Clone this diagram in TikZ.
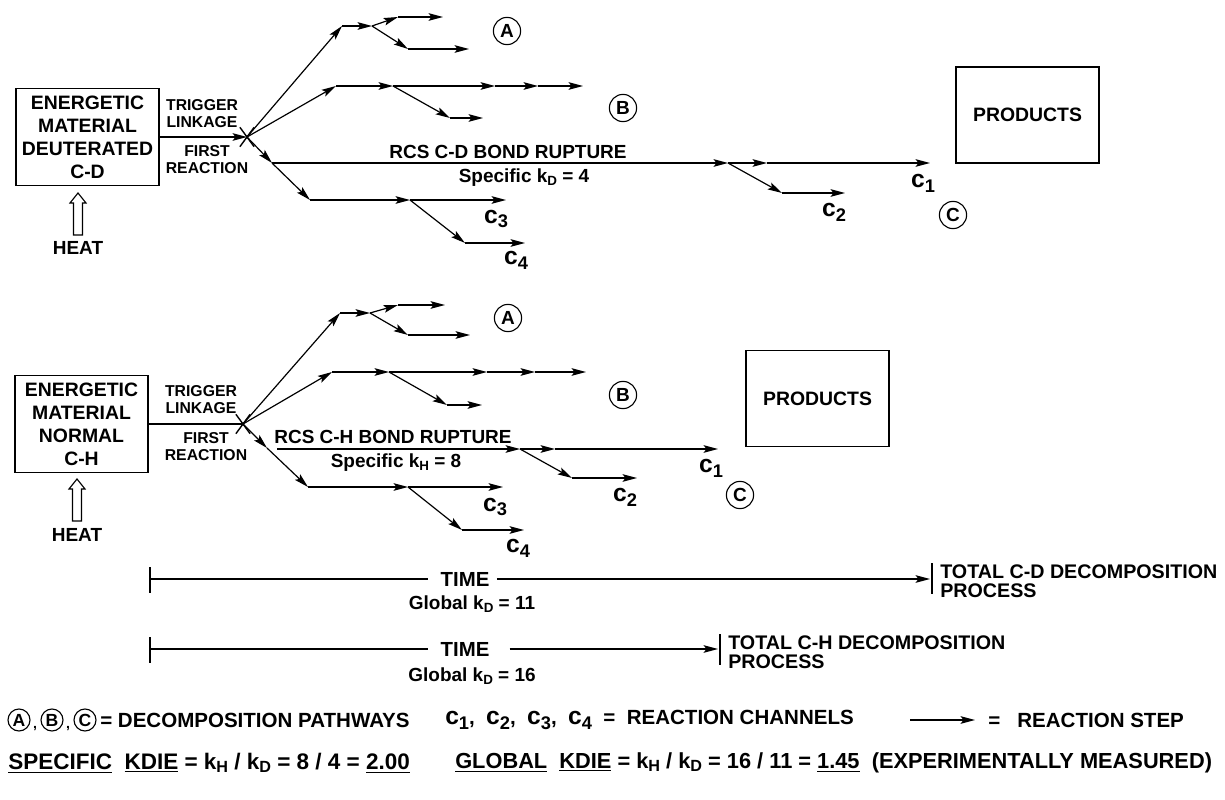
\documentclass[tikz,border=0pt]{standalone}
\usepackage{fontspec}
\setmainfont{Liberation Sans}
\usepackage{tikz}
\usetikzlibrary{arrows.meta, shapes.misc}
\newcommand{\fsz}[1]{\fontsize{#1}{#1}\selectfont}
\newcommand{\chan}[1]{{\fsz{17.5}c}\raisebox{-3.5pt}{\fsz{13}#1}}
\newcommand{\ksub}[2][9.5]{k\raisebox{-2pt}{\fsz{#1}#2}}

\begin{document}
\begin{tikzpicture}[x=0.025cm, y=-0.025cm,
    lbl/.style={font=\fsz{13.5}\bfseries, inner sep=0pt, align=center},
    trglbl/.style={font=\fontsize{11.2}{12}\selectfont\bfseries, inner sep=0pt, align=center},
    matbox/.style={draw, line width=0.9pt, minimum height=2.43cm, align=center, inner sep=0pt, font=\fontsize{13.8}{16.3}\selectfont\bfseries},
    prodbox/.style={draw, line width=0.9pt, minimum width=3.575cm, minimum height=2.4cm, font=\fsz{13.8}\bfseries},
    pathway/.style={draw, circle, line width=0.8pt, minimum size=0.68cm, inner sep=0pt, font=\fsz{13.5}\bfseries},
    chanlbl/.style={inner sep=0pt, font=\bfseries},
    react/.style={-{Stealth[length=3.6mm, width=1.9mm, inset=0.7mm]}, line width=0.85pt},
    heatpath/.style={draw, line width=0.8pt, fill=white},
    trig/.style={draw, cross out, line width=1pt, minimum width=0.32cm, minimum height=0.45cm, inner sep=0pt},
    timelbl/.style={font=\fsz{14.5}\bfseries, inner sep=0pt},
    totlbl/.style={font=\fontsize{14}{13.5}\selectfont\bfseries, inner sep=0pt, anchor=west, align=left},
    leglbl/.style={font=\fsz{14.6}\bfseries, inner sep=0pt, anchor=west},
    bar/.style={line width=0.85pt},
]
\useasboundingbox (0,0) rectangle (1225,800);

% ---------- deuterated C-D (top) ----------
\node[matbox, minimum width=3.575cm] (mat1) at (87.5,137) {ENERGETIC\\MATERIAL\\DEUTERATED\\C-D};
\coordinate (heat1tip) at (78,193);
\draw[heatpath] (heat1tip) -- ++(8,10) -- ++(-3.5,0) -- ++(0,32) -- ++(-9,0) -- ++(0,-32) -- ++(-3.5,0) -- cycle;
\node[lbl] (heat1) at (78,248) {HEAT};
\node[trig] (x1) at (247,137) {};
\draw[react] (mat1) -- (x1.center);
\node[trglbl] (trig1) at (202,114) {TRIGGER\\LINKAGE};
\node[trglbl] (first1) at (207,160) {FIRST\\REACTION};
% pathway A
\coordinate (a1) at (342,26);
\coordinate (a2) at (372,26);
\coordinate (a3) at (398,17);
\coordinate (a4) at (443,17);
\coordinate (a5) at (408,49);
\coordinate (a6) at (469,49);
\draw[react] (x1.center) -- (a1);
\draw[react] (a1) -- (a2);
\draw[react] (a2) -- (a3);
\draw[react] (a3) -- (a4);
\draw[react] (a2) -- (a5);
\draw[react] (a5) -- (a6);
\node[pathway] (pA1) at (507,31) {A};
% pathway B
\coordinate (b1) at (336,86);
\coordinate (b2) at (393,86);
\coordinate (b3) at (495,86);
\coordinate (b4) at (538,86);
\coordinate (b5) at (583,86);
\coordinate (b6) at (450,118);
\coordinate (b7) at (483,118);
\draw[react] (x1.center) -- (b1);
\draw[react] (b1) -- (b2);
\draw[react] (b2) -- (b3);
\draw[react] (b3) -- (b4);
\draw[react] (b4) -- (b5);
\draw[react] (b2) -- (b6);
\draw[react] (b6) -- (b7);
\node[pathway] (pB1) at (623,108) {B};
% pathway C
\coordinate (r0) at (272,163);
\coordinate (r1) at (728,163);
\coordinate (r2) at (767,163);
\coordinate (r3) at (930,163);
\coordinate (r4) at (782,193);
\coordinate (r5) at (845,193);
\coordinate (d1) at (310,200);
\coordinate (d2) at (410,200);
\coordinate (d3) at (506,200);
\coordinate (d4) at (465,243);
\coordinate (d5) at (525,243);
\draw[react] (x1.center) -- (r0);
\draw[react] (r0) -- (r1);
\draw[react] (r1) -- (r2);
\draw[react] (r2) -- (r3);
\draw[react] (r1) -- (r4);
\draw[react] (r4) -- (r5);
\draw[react] (r0) -- (d1);
\draw[react] (d1) -- (d2);
\draw[react] (d2) -- (d3);
\draw[react] (d2) -- (d4);
\draw[react] (d4) -- (d5);
\node[lbl] (rcs1) at (508,152) {RCS C-D BOND RUPTURE};
\node[lbl] (spec1) at (524,178) {Specific \ksub{D} = 4};
\node[chanlbl] (c1t) at (923,183) {\chan{1}};
\node[chanlbl] (c2t) at (834,212) {\chan{2}};
\node[chanlbl] (c3t) at (496,219) {\chan{3}};
\node[chanlbl] (c4t) at (516,260) {\chan{4}};
\node[pathway] (pC1) at (953,215) {C};
\node[prodbox] (prod1) at (1027.5,115) {PRODUCTS};

% ---------- normal C-H (bottom) ----------
\node[matbox, minimum width=3.325cm] (mat2) at (81.5,424) {ENERGETIC\\MATERIAL\\NORMAL\\C-H};
\coordinate (heat2tip) at (77,479);
\draw[heatpath] (heat2tip) -- ++(8,10) -- ++(-3.5,0) -- ++(0,32) -- ++(-9,0) -- ++(0,-32) -- ++(-3.5,0) -- cycle;
\node[lbl] (heat2) at (77,535) {HEAT};
\node[trig] (x2) at (243,424) {};
\draw[bar] (mat2) -- (x2.center);
\node[trglbl] (trig2) at (201,400) {TRIGGER\\LINKAGE};
\node[trglbl] (first2) at (206,447) {FIRST\\REACTION};
% pathway A
\coordinate (a1b) at (340,313);
\coordinate (a2b) at (370,313);
\coordinate (a3b) at (398,305);
\coordinate (a4b) at (445,305);
\coordinate (a5b) at (408,335);
\coordinate (a6b) at (470,335);
\draw[react] (x2.center) -- (a1b);
\draw[react] (a1b) -- (a2b);
\draw[react] (a2b) -- (a3b);
\draw[react] (a3b) -- (a4b);
\draw[react] (a2b) -- (a5b);
\draw[react] (a5b) -- (a6b);
\node[pathway] (pA2) at (508,318) {A};
% pathway B
\coordinate (b1b) at (332,372);
\coordinate (b2b) at (389,372);
\coordinate (b3b) at (487,372);
\coordinate (b4b) at (535,372);
\coordinate (b5b) at (586,372);
\coordinate (b6b) at (447,405);
\coordinate (b7b) at (482,405);
\draw[react] (x2.center) -- (b1b);
\draw[react] (b1b) -- (b2b);
\draw[react] (b2b) -- (b3b);
\draw[react] (b3b) -- (b4b);
\draw[react] (b4b) -- (b5b);
\draw[react] (b2b) -- (b6b);
\draw[react] (b6b) -- (b7b);
\node[pathway] (pB2) at (623,395) {B};
% pathway C
\coordinate (c0b) at (267,448);
\coordinate (r0b) at (277,449);
\coordinate (r1b) at (520,449);
\coordinate (r2b) at (555,449);
\coordinate (r3b) at (718,449);
\coordinate (r4b) at (572,478);
\coordinate (r5b) at (637,478);
\coordinate (d1b) at (308,487);
\coordinate (d2b) at (408,487);
\coordinate (d3b) at (503,487);
\coordinate (d4b) at (462,530);
\coordinate (d5b) at (524,530);
\draw[react] (x2.center) -- (c0b);
\draw[react] (r0b) -- (r1b);
\draw[react] (r1b) -- (r2b);
\draw[react] (r2b) -- (r3b);
\draw[react] (r1b) -- (r4b);
\draw[react] (r4b) -- (r5b);
\draw[react] (c0b) -- (d1b);
\draw[react] (d1b) -- (d2b);
\draw[react] (d2b) -- (d3b);
\draw[react] (d2b) -- (d4b);
\draw[react] (d4b) -- (d5b);
\node[lbl] (rcs2) at (393,437) {RCS C-H BOND RUPTURE};
\node[lbl] (spec2) at (396,463) {Specific \ksub{H} = 8};
\node[chanlbl] (c1b) at (711,468) {\chan{1}};
\node[chanlbl] (c2b) at (625,497) {\chan{2}};
\node[chanlbl] (c3b) at (495,507) {\chan{3}};
\node[chanlbl] (c4b) at (518,548) {\chan{4}};
\node[pathway] (pC2) at (740,495) {C};
\node[prodbox] (prod2) at (817.5,398.5) {PRODUCTS};

% ---------- time lines ----------
\coordinate (t1s) at (150,579);
\coordinate (t1e) at (930,579);
\node[timelbl] (time1) at (465,579) {TIME};
\draw[bar] (t1s) -- ([xshift=-0.3cm]time1.west);
\draw[react] ([xshift=0.18cm]time1.east) -- (t1e);
\draw[bar] (t1s) +(0,-12) -- +(0,14);
\draw[bar] (t1e) +(2,-16) -- +(2,15);
\node[totlbl] (tot1) at (940,581) {TOTAL C-D DECOMPOSITION\\PROCESS};
\node[lbl] (glob1) at (472,604) {Global \ksub{D} = 11};

\coordinate (t2s) at (150,649);
\coordinate (t2e) at (718,649);
\node[timelbl] (time2) at (465,649) {TIME};
\draw[bar] (t2s) -- ([xshift=-0.3cm]time2.west);
\draw[react] ([xshift=0.5cm]time2.east) -- (t2e);
\draw[bar] (t2s) +(0,-12) -- +(0,14);
\draw[bar] (t2e) +(2,-15) -- +(2,16);
\node[totlbl] (tot2) at (728,652) {TOTAL C-H DECOMPOSITION\\PROCESS};
\node[lbl] (glob2) at (472,676) {Global \ksub{D} = 16};

% ---------- legend ----------
\node[pathway, minimum size=0.55cm, font=\fsz{12.5}\bfseries] (lA) at (19,720) {A};
\node[chanlbl, font=\fsz{10}\bfseries] (cm1) at (35,729) {,};
\node[pathway, minimum size=0.55cm, font=\fsz{12.5}\bfseries] (lB) at (52,720) {B};
\node[chanlbl, font=\fsz{10}\bfseries] (cm2) at (68,729) {,};
\node[pathway, minimum size=0.55cm, font=\fsz{12.5}\bfseries] (lC) at (85,720) {C};
\node[leglbl] (leg1) at (100,720) {= DECOMPOSITION PATHWAYS};
\node[leglbl] (leg2) at (445,720) {\chan{1},\ \ \chan{2},\ \ \chan{3},\ \ \chan{4}\ \ =\ \ REACTION CHANNELS};
\coordinate (ls) at (910,720);
\coordinate (le) at (975,720);
\draw[react] (ls) -- (le);
\node[leglbl] (leg3) at (988,720) {=\ \ \ REACTION STEP};

\node[leglbl, font=\fsz{16}\bfseries] (kdie1) at (8,763) {\underline{SPECIFIC}\ \ \underline{KDIE} = \ksub[11.5]{H} / \ksub[11.5]{D} = 8 / 4 = \underline{2.00}};
\node[leglbl, font=\fsz{15.5}\bfseries] (kdie2) at (455,763) {\underline{GLOBAL}\ \ \underline{KDIE} = \ksub[11.5]{H} / \ksub[11.5]{D} = 16 / 11 = \underline{1.45}\ \ (EXPERIMENTALLY MEASURED)};
\end{tikzpicture}
\end{document}
